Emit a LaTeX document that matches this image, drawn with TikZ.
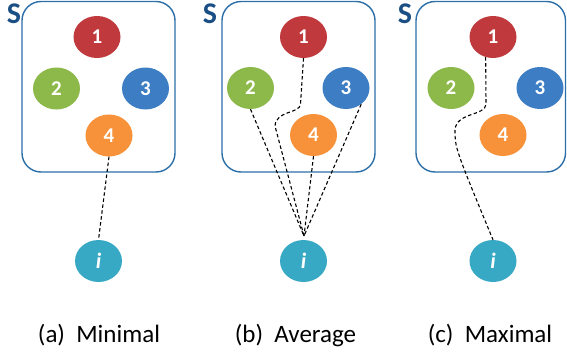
\documentclass[tikz,border=0pt]{standalone}
\usepackage{fontspec}
\setmainfont{Carlito}
\usetikzlibrary{shapes.geometric}
\definecolor{cred}{HTML}{C0393C}
\definecolor{cgreen}{HTML}{8DB84A}
\definecolor{cblue}{HTML}{3C7DC4}
\definecolor{corange}{HTML}{F7923A}
\definecolor{cteal}{HTML}{38A9C4}
\definecolor{cbox}{HTML}{2C6FA8}
\definecolor{cS}{HTML}{1A4F85}
\begin{document}
\begin{tikzpicture}[x=1pt,y=-1pt,
  blob/.style={ellipse, minimum width=47pt, minimum height=42pt, inner sep=0pt,
    text=white, font=\fontsize{21}{21}\selectfont\bfseries},
  inode/.style={blob, fill=cteal, font=\fontsize{22}{22}\selectfont\bfseries\itshape},
  setbox/.style={draw=cbox, line width=1.4pt, rounded corners=19pt},
  setlabel/.style={text=cS, font=\fontsize{30}{30}\selectfont\bfseries},
  link/.style={draw=black, line width=1.1pt, dash pattern=on 3.5pt off 2.5pt},
  caption/.style={anchor=base, font=\fontsize{25}{30}\selectfont}]
\useasboundingbox (0,0) rectangle (567,356);
\fill[white] (0,0) rectangle (567,356);
% boxes
\draw[setbox] (22,1.5) rectangle (175,172);
\draw[setbox] (222,1.5) rectangle (375,172);
\draw[setbox] (416,1.5) rectangle (565.5,172);
\node[setlabel] (sa) at (14,14) {S};
\node[setlabel] (sb) at (210,14) {S};
\node[setlabel] (sc) at (405,14) {S};
% panel a
\node[blob, fill=cred] (a1) at (97,37) {1};
\node[blob, fill=cgreen] (a2) at (56.5,88.5) {2};
\node[blob, fill=cblue] (a3) at (145.5,88.5) {3};
\node[blob, fill=corange] (a4) at (109,135.5) {4};
\node[inode] (ai) at (98.5,261) {i};
% panel b
\node[blob, fill=cred] (b1) at (303.5,37) {1};
\node[blob, fill=cgreen] (b2) at (250.5,88) {2};
\node[blob, fill=cblue] (b3) at (346,88) {3};
\node[blob, fill=corange] (b4) at (313.5,135) {4};
\node[inode] (bi) at (303.5,261) {i};
% panel c
\node[blob, fill=cred] (c1) at (493,37) {1};
\node[blob, fill=cgreen] (c2) at (451,88) {2};
\node[blob, fill=cblue] (c3) at (540,88) {3};
\node[blob, fill=corange] (c4) at (503,135) {4};
\node[inode] (ci) at (493,261) {i};
% connectors
\draw[link] (a4.south) -- (ai.north);
\coordinate (bt) at (304,236);
\draw[link] (b2.south) -- (bt);
\draw[link] (b1.south) -- (300.5,104) .. controls (300,114) and (276,110) .. (275,126) -- (bt);
\draw[link] (b4.south) -- (bt);
\draw[link] (b3.-47) -- (bt);
\draw[link] (c1.-110) -- (486,104) .. controls (486,116) and (456,112) .. (455,130) .. controls (455,148) .. (ci.north);
% captions
\node[caption] (la) at (99,342) {(a)~~Minimal};
\node[caption] (lb) at (295.5,342) {(b)~~Average};
\node[caption] (lc) at (490,342) {(c)~~Maximal};
\end{tikzpicture}
\end{document}
